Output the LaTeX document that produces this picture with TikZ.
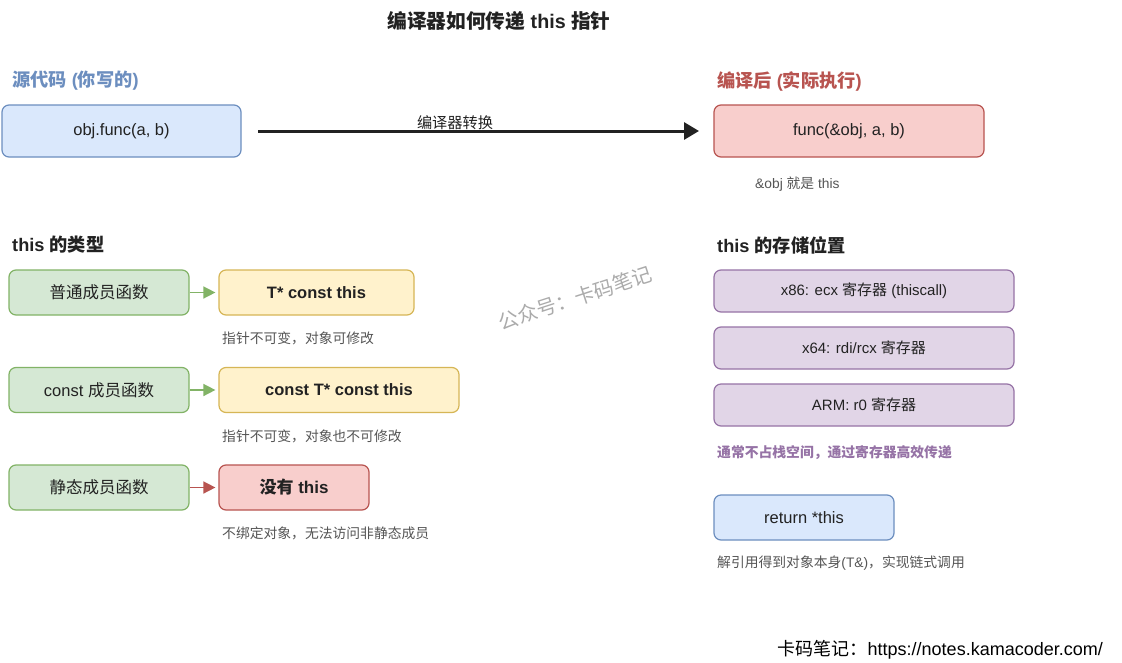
\documentclass[tikz,border=0pt]{standalone}
\usepackage{fontspec}
\setmainfont{Liberation Sans}
\newfontfamily\cjk{Noto Sans CJK SC}
\usetikzlibrary{arrows.meta}
\newcommand{\zh}[1]{{\cjk #1}}
\definecolor{bluefill}{HTML}{DAE8FC}\definecolor{bluestroke}{HTML}{6C8EBF}
\definecolor{redfill}{HTML}{F8CECC}\definecolor{redstroke}{HTML}{B85450}
\definecolor{greenfill}{HTML}{D5E8D4}\definecolor{greenstroke}{HTML}{82B366}
\definecolor{yellowfill}{HTML}{FFF2CC}\definecolor{yellowstroke}{HTML}{D6B656}
\definecolor{purplefill}{HTML}{E1D5E7}\definecolor{purplestroke}{HTML}{9673A6}
\definecolor{darktext}{HTML}{222222}\definecolor{notetext}{HTML}{555555}
\begin{document}
\begin{tikzpicture}[x=1pt,y=-1pt,
  box/.style={rounded corners=7pt,line width=1.2pt,inner sep=0pt,
    font=\fontsize{16.5}{18}\selectfont,text=darktext},
  bluebox/.style={box,fill=bluefill,draw=bluestroke},
  redbox/.style={box,fill=redfill,draw=redstroke},
  greenbox/.style={box,fill=greenfill,draw=greenstroke},
  yellowbox/.style={box,fill=yellowfill,draw=yellowstroke,font=\fontsize{16.5}{18}\selectfont\bfseries},
  purplebox/.style={box,fill=purplefill,draw=purplestroke,font=\fontsize{15}{17}\selectfont},
  heading/.style={anchor=west,inner sep=0pt,font=\fontsize{18.2}{20}\selectfont\bfseries},
  note/.style={anchor=west,inner sep=0pt,font=\fontsize{13.8}{15}\selectfont,text=notetext},
  garrow/.style={line width=1.5pt,draw=greenstroke,-{Triangle[length=12pt,width=12pt]},shorten >=3pt},
  rarrow/.style={line width=1.5pt,draw=redstroke,-{Triangle[length=12pt,width=12pt]},shorten >=3pt}
]
\useasboundingbox (0,0) rectangle (1122,662);
\fill[white] (0,0) rectangle (1122,662);

% title
\node[inner sep=0pt,font=\fontsize{19.7}{21}\selectfont\bfseries,text=darktext] (title) at (499,21) {\zh{编译器如何传递} this \zh{指针}};

% top section
\node[heading,text=bluestroke] (srch) at (12,81) {\zh{源代码} (\zh{你写的})};
\node[bluebox,minimum width=239pt,minimum height=52pt] (src) at (121.5,131) {obj.func(a, b)};
\node[heading,text=redstroke] (cmph) at (717,81) {\zh{编译后} (\zh{实际执行})};
\node[redbox,minimum width=270pt,minimum height=52pt] (cmp) at (849,131) {func(\&obj, a, b)};
\coordinate (astart) at (258,131);
\coordinate (aend) at (699,131);
\draw[line width=3pt,draw=darktext,-{Triangle[length=15pt,width=17pt]}] (astart) -- (aend);
\node[inner sep=0pt,font=\fontsize{15.2}{17}\selectfont,text=darktext] (alab) at (455,123) {\zh{编译器转换}};
\node[note] (objnote) at (755,184) {\&obj \zh{就是} this};

% this types
\node[heading,text=darktext] (typeh) at (12,245) {this \zh{的类型}};
\node[greenbox,minimum width=180pt,minimum height=45pt] (g1) at (99,292.5) {\zh{普通成员函数}};
\node[greenbox,minimum width=180pt,minimum height=45pt] (g2) at (99,390) {const \zh{成员函数}};
\node[greenbox,minimum width=180pt,minimum height=45pt] (g3) at (99,487.5) {\zh{静态成员函数}};
\node[yellowbox,minimum width=195pt,minimum height=45pt] (y1) at (316.5,292.5) {T* const this};
\node[yellowbox,minimum width=240pt,minimum height=45pt] (y2) at (339,390) {const T* const this};
\node[redbox,minimum width=150pt,minimum height=45pt,font=\fontsize{17}{19}\selectfont\bfseries] (r1) at (294,487.5) {\zh{没有} this};
\draw[garrow] (g1) -- (y1);
\draw[garrow] (g2) -- (y2);
\draw[rarrow] (g3) -- (r1);
\node[note] (n1) at (222,338) {\zh{指针不可变，对象可修改}};
\node[note] (n2) at (222,436) {\zh{指针不可变，对象也不可修改}};
\node[note] (n3) at (222,533) {\zh{不绑定对象，无法访问非静态成员}};

% storage
\node[heading,text=darktext] (storh) at (717,245) {this \zh{的存储位置}};
\node[purplebox,minimum width=300pt,minimum height=42pt] (p1) at (864,291) {x86: ecx \zh{寄存器} (thiscall)};
\node[purplebox,minimum width=300pt,minimum height=42pt] (p2) at (864,348) {x64: rdi/rcx \zh{寄存器}};
\node[purplebox,minimum width=300pt,minimum height=42pt] (p3) at (864,405) {ARM: r0 \zh{寄存器}};
\node[anchor=west,inner sep=0pt,font=\fontsize{13.8}{15}\selectfont\bfseries,text=purplestroke] (pnote) at (717,453) {\zh{通常不占栈空间，通过寄存器高效传递}};
\node[bluebox,minimum width=180pt,minimum height=45pt] (ret) at (804,517.5) {return *this};
\node[note] (rnote) at (717,563) {\zh{解引用得到对象本身}(T\&)\zh{，实现链式调用}};

% watermark
\node[inner sep=0pt,rotate=18,font=\fontsize{20}{22}\selectfont,text=black!33] (wm) at (575,298) {\zh{公众号：卡码笔记}};

% footer
\node[anchor=east,inner sep=0pt,font=\fontsize{18}{20}\selectfont,text=black] (foot) at (1103,650) {\zh{卡码笔记：}https://notes.kamacoder.com/};
\end{tikzpicture}
\end{document}
